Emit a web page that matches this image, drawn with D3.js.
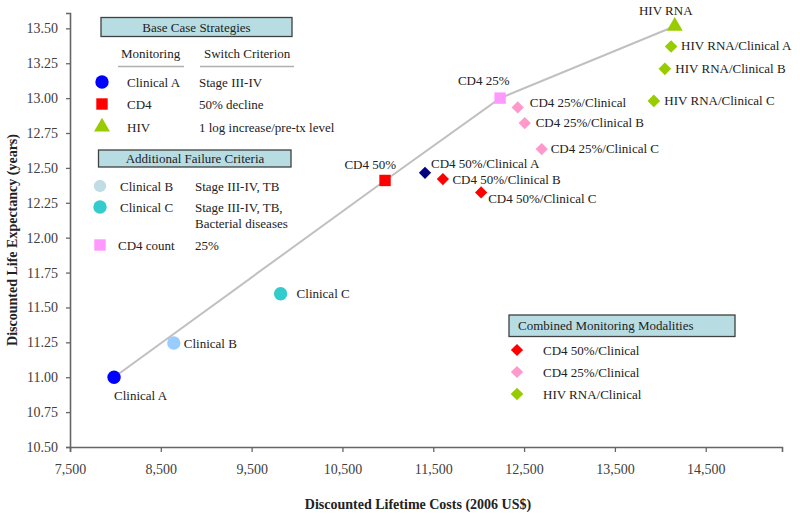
<!DOCTYPE html>
<html>
<head>
<meta charset="utf-8">
<script src="https://cdn.jsdelivr.net/npm/d3@7"></script>
<style>
  html, body { margin: 0; padding: 0; background: #fff; }
  svg { display: block; font-family: "Liberation Serif", "Times New Roman", serif; }
</style>
</head>
<body>
<svg id="chart" width="800" height="517"></svg>
<script>
// ---- Data ----
const strategyNames = [
  "Clinical A", "Clinical B", "Clinical C", "CD4 50%", "CD4 25%", "HIV RNA",
  "CD4 50%/Clinical A", "CD4 50%/Clinical B", "CD4 50%/Clinical C",
  "CD4 25%/Clinical", "CD4 25%/Clinical B", "CD4 25%/Clinical C",
  "HIV RNA/Clinical A", "HIV RNA/Clinical B", "HIV RNA/Clinical C"
];
const lifetimeCosts = [
  7985, 8643, 9819, 10969, 12236, 14159,
  11409, 11606, 12027,
  12430, 12507, 12694,
  14119, 14050, 13929
];
const lifeExpectancy = [
  11.00, 11.245, 11.598, 12.41, 13.00, 13.515,
  12.465, 12.42, 12.324,
  12.933, 12.821, 12.635,
  13.37, 13.21, 12.98
];
const markerTypes = [
  "circleA", "circleB", "circleC", "squareRed", "squarePink", "triangle",
  "diamondNavy", "diamondRed", "diamondRed",
  "diamondPink", "diamondPink", "diamondPink",
  "diamondGreen", "diamondGreen", "diamondGreen"
];
// Efficient frontier (connected strategies)
const frontierNames = ["Clinical A", "CD4 50%", "CD4 25%", "HIV RNA"];

const xTicks = [7500, 8500, 9500, 10500, 11500, 12500, 13500, 14500];
const yTicks = [10.50, 10.75, 11.00, 11.25, 11.50, 11.75, 12.00, 12.25, 12.50, 12.75, 13.00, 13.25, 13.50];

const baseMonitoring = ["Clinical A", "CD4", "HIV"];
const baseCriterion = ["Stage III-IV", "50% decline", "1 log increase/pre-tx level"];
const baseMarkers = ["circleA", "squareRed", "triangle"];

const addCriteriaNames = ["Clinical B", "Clinical C", "CD4 count"];
const addCriteriaText = [["Stage III-IV, TB"], ["Stage III-IV, TB,", "Bacterial diseases"], ["25%"]];
const addMarkers = ["circleBLegend", "circleC", "squarePink"];

const combinedNames = ["CD4 50%/Clinical", "CD4 25%/Clinical", "HIV RNA/Clinical"];
const combinedMarkers = ["diamondRed", "diamondPink", "diamondGreen"];

// ---- Styles ----
const markerStyle = {
  circleA:      { shape: d3.symbolCircle, size: 140, color: "#0000ff", rot: 0 },
  circleB:      { shape: d3.symbolCircle, size: 140, color: "#99ccff", rot: 0 },
  circleBLegend:{ shape: d3.symbolCircle, size: 120, color: "#c0dde6", rot: 0 },
  circleC:      { shape: d3.symbolCircle, size: 140, color: "#33cccc", rot: 0 },
  squareRed:    { shape: d3.symbolSquare, size: 130, color: "#ff0000", rot: 0 },
  squarePink:   { shape: d3.symbolSquare, size: 130, color: "#ff99ff", rot: 0 },
  triangle:     { shape: d3.symbolTriangle, size: 110, color: "#99cc00", rot: 0 },
  diamondNavy:  { shape: d3.symbolSquare, size: 75, color: "#000080", rot: 45 },
  diamondRed:   { shape: d3.symbolSquare, size: 75, color: "#ff0000", rot: 45 },
  diamondPink:  { shape: d3.symbolSquare, size: 75, color: "#ff99cc", rot: 45 },
  diamondGreen: { shape: d3.symbolSquare, size: 80, color: "#99cc00", rot: 45 }
};
// label offsets [dx, dy, anchor]
const labelLayout = {
  "Clinical A": [0, 23, "start"],
  "Clinical B": [10, 4.5, "start"],
  "Clinical C": [16, 4.5, "start"],
  "CD4 50%": [11, -11, "end"],
  "CD4 25%": [9.5, -13.5, "end"],
  "HIV RNA": [-9, -11, "middle"],
  "CD4 50%/Clinical A": [6, -5, "start"],
  "CD4 50%/Clinical B": [9.5, 5, "start"],
  "CD4 50%/Clinical C": [7, 11, "start"],
  "CD4 25%/Clinical": [12, 0, "start"],
  "CD4 25%/Clinical B": [11, 4, "start"],
  "CD4 25%/Clinical C": [9, 4, "start"],
  "HIV RNA/Clinical A": [10, 4, "start"],
  "HIV RNA/Clinical B": [10.5, 4, "start"],
  "HIV RNA/Clinical C": [10.5, 4, "start"]
};

const svg = d3.select("#chart");
const x = d3.scaleLinear().domain([7500, 15340]).range([70, 782]);
const y = d3.scaleLinear().domain([10.5, 13.61]).range([447, 13]);

const axisColor = "#666";
const textColor = "#222";

// Axes
const xAxis = svg.append("g").attr("transform", "translate(0,447)")
  .call(d3.axisBottom(x).tickValues(xTicks).tickSize(5).tickPadding(12).tickFormat(d3.format(",")));
const yAxis = svg.append("g").attr("transform", "translate(70,0)")
  .call(d3.axisLeft(y).tickValues(yTicks).tickSize(4).tickPadding(8).tickFormat(d3.format(".2f")));
[xAxis, yAxis].forEach(g => {
  g.select(".domain").attr("stroke", axisColor).attr("stroke-width", 1.6);
  g.selectAll(".tick line").attr("stroke", axisColor).attr("stroke-width", 1.3);
  g.selectAll(".tick text").attr("fill", "#404040")
    .style("font-family", "'Liberation Serif', serif").style("font-size", "14px");
});

// Axis titles
svg.append("text").attr("x", 418).attr("y", 509).attr("text-anchor", "middle")
  .attr("font-weight", "bold").attr("font-size", 14).attr("fill", textColor)
  .text("Discounted Lifetime Costs (2006 US$)");
svg.append("text").attr("transform", "translate(17,240) rotate(-90)").attr("text-anchor", "middle")
  .attr("font-weight", "bold").attr("font-size", 14).attr("fill", textColor)
  .text("Discounted Life Expectancy (years)");

// Points data
const pts = strategyNames.map((n, i) => ({ name: n, cost: lifetimeCosts[i], le: lifeExpectancy[i], marker: markerTypes[i] }));

// Frontier line
const frontier = frontierNames.map(n => pts.find(p => p.name === n));
svg.append("path").datum(frontier)
  .attr("d", d3.line().x(d => x(d.cost)).y(d => y(d.le)))
  .attr("fill", "none").attr("stroke", "#c0c0c0").attr("stroke-width", 2);

function drawMarker(g, key, cx, cy) {
  const s = markerStyle[key];
  g.append("path")
    .attr("d", d3.symbol().type(s.shape).size(s.size)())
    .attr("transform", `translate(${cx},${cy}) rotate(${s.rot})`)
    .attr("fill", s.color);
}

const gPts = svg.append("g");
pts.forEach(p => drawMarker(gPts, p.marker, x(p.cost), y(p.le)));

// Labels
const gLab = svg.append("g").attr("font-size", 13).attr("fill", textColor);
pts.forEach(p => {
  const [dx, dy, anchor] = labelLayout[p.name];
  gLab.append("text").attr("x", x(p.cost) + dx).attr("y", y(p.le) + dy)
    .attr("text-anchor", anchor).text(p.name);
});

// ---- Legends ----
const boxFill = "#b7dde3";
const boxStroke = "#404040";
function titleBox(x0, y0, w, h, label, anchor, tx) {
  svg.append("rect").attr("x", x0).attr("y", y0).attr("width", w).attr("height", h)
    .attr("fill", boxFill).attr("stroke", boxStroke).attr("stroke-width", 1.3);
  svg.append("text").attr("x", tx).attr("y", y0 + h / 2 + 4.5).attr("text-anchor", anchor)
    .attr("font-size", 13).attr("fill", textColor).text(label);
}

// Base case
titleBox(101, 17.5, 191, 19, "Base Case Strategies", "middle", 196.5);
const lg = svg.append("g").attr("font-size", 13).attr("fill", textColor);
lg.append("text").attr("x", 121).attr("y", 58).text("Monitoring");
lg.append("text").attr("x", 204).attr("y", 58).text("Switch Criterion");
lg.append("line").attr("x1", 118).attr("x2", 184).attr("y1", 66.5).attr("y2", 66.5).attr("stroke", "#b0b0b0").attr("stroke-width", 1.5);
lg.append("line").attr("x1", 200).attr("x2", 294).attr("y1", 66.5).attr("y2", 66.5).attr("stroke", "#b0b0b0").attr("stroke-width", 1.5);
const baseRowY = [82, 104, 127];
baseMonitoring.forEach((m, i) => {
  drawMarker(lg, baseMarkers[i], 102, baseRowY[i]);
  lg.append("text").attr("x", 127).attr("y", baseRowY[i] + 5).text(m);
  lg.append("text").attr("x", 199).attr("y", baseRowY[i] + 5).text(baseCriterion[i]);
});

// Additional failure criteria
titleBox(98.5, 150, 192.5, 17, "Additional Failure Criteria", "middle", 195);
const addRowY = [186, 207, 245];
addCriteriaNames.forEach((m, i) => {
  drawMarker(lg, addMarkers[i], 100, addRowY[i]);
  lg.append("text").attr("x", i === 2 ? 118 : 120).attr("y", addRowY[i] + 5).text(m);
  addCriteriaText[i].forEach((t, j) => {
    lg.append("text").attr("x", 195).attr("y", addRowY[i] + 5 + j * 16).text(t);
  });
});

// Combined monitoring modalities
titleBox(509, 315, 226, 21.5, "Combined Monitoring Modalities", "start", 518);
const combRowY = [350, 372, 394];
combinedNames.forEach((m, i) => {
  drawMarker(lg, combinedMarkers[i], 517, combRowY[i]);
  lg.append("text").attr("x", 543).attr("y", combRowY[i] + 5).text(m);
});
</script>
</body>
</html>
